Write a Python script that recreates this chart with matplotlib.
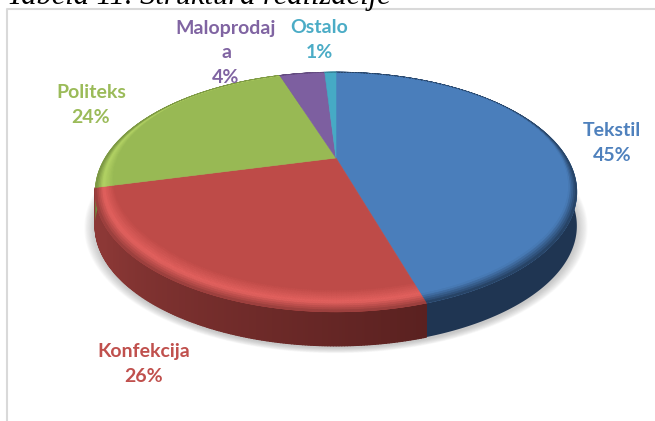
import numpy as np
import matplotlib
matplotlib.use('Agg')
import matplotlib.pyplot as plt
from matplotlib.collections import PolyCollection

# data
categories = ['Tekstil', 'Konfekcija', 'Politeks', 'Maloprodaj\na', 'Ostalo']
shares = [45.4, 25.6, 24.0, 4.0, 1.0]
pct_labels = ['45%', '26%', '24%', '4%', '1%']
face_colours = ['#4a7ebb', '#be4b48', '#98b954', '#7d5fa0', '#46aac5']
wall_colours = ['#1f3552', '#8c3836', '#6f8a3c', '#5c4675', '#30788c']
high_colours = ['#4a7ebb', '#e4625f', '#b4d465', '#7d5fa0', '#46aac5']
text_colours = ['#4f81bd', '#c0504d', '#9bbb59', '#8064a2', '#4bacc6']
label_xy = [(612, 143), (144, 364), (91, 105), (226, 53), (319, 40)]

# pie geometry, in pixels of the 655x421 picture
cx, cy = 336, 158
rx, ry, persp = 231, 110.3, 0.283
depth = 34


def project(t, r=1.0):
    """t = clockwise degrees from the top, r = radius on the unit disc"""
    t = np.radians(t)
    X, Y = r * np.sin(t), r * np.cos(t)
    w = 1 + persp * Y
    return np.column_stack([cx + rx * X / w, cy - ry * Y / w])


def blend(c1, c2, s):
    a = np.array(matplotlib.colors.to_rgb(c1))
    b = np.array(matplotlib.colors.to_rgb(c2))
    return tuple(a + (b - a) * s)


fig = plt.figure(figsize=(6.55, 4.21), dpi=100)
ax = fig.add_axes([0, 0, 1, 1])
ax.set_xlim(0, 655)
ax.set_ylim(421, 0)
ax.axis('off')

# chart frame, runs off the right and bottom of the crop
ax.plot([655, 7, 7], [9, 9, 421], color='#d9d9d9', lw=1.5, zorder=1)

# title is cut by the top edge of the picture
ax.text(7, 4, 'Tabela 11. Struktura realizacije', family='Liberation Serif',
        style='italic', fontsize=22, color='black', va='baseline', zorder=2)

# soft shadow under the pie
rim = project(np.linspace(0, 360, 361))
for s in np.linspace(1.045, 1.0, 14):
    pts = rim.copy()
    pts[:, 0] = 336 + (pts[:, 0] - 336) * s
    pts[:, 1] = 228 + (pts[:, 1] - 192) * s
    ax.fill(pts[:, 0], pts[:, 1], color='#808080', alpha=0.035, lw=0, zorder=3)

edges = np.concatenate([[0], np.cumsum(shares)]) / sum(shares) * 360

for i in range(len(shares)):
    t0, t1 = edges[i], edges[i + 1]
    ts = np.linspace(t0, t1, max(int(t1 - t0) * 2, 2) + 1)

    # side wall, solid underneath, then darkest towards the right of each slice
    top_edge = project(ts)
    wall = np.vstack([top_edge, top_edge[::-1] + [0, depth]])
    ax.fill(wall[:, 0], wall[:, 1], color=wall_colours[i], lw=0, zorder=4)
    if i == 1:
        polys, cols = [], []
        for a, b in zip(ts[:-1], ts[1:]):
            p = project(np.array([a, b]))
            polys.append([p[0], p[1], p[1] + [0, depth], p[0] + [0, depth]])
            cols.append(blend('#5a2120', wall_colours[1], np.clip((a - t0) / 75, 0, 1)))
        ax.add_collection(PolyCollection(polys, facecolors=cols, edgecolors=cols,
                                         linewidths=0.9, zorder=4))

    # flat top of the slice
    pts = np.vstack([[cx, cy], project(ts)])
    ax.fill(pts[:, 0], pts[:, 1], color=face_colours[i], lw=0.4, zorder=5)

    # bevel between top and wall, wide at the front and thin at the back
    polys, cols = [], []
    steps = np.linspace(0, 1, 13)
    for a, b in zip(ts[:-1], ts[1:]):
        Y = np.cos(np.radians(a))
        width = 0.012 + 0.1 * np.clip(0.45 - 0.75 * Y, 0, 1)
        for s0, s1 in zip(steps[:-1], steps[1:]):
            r0, r1 = 1 - width * (1 - s0), 1 - width * (1 - s1)
            pa = project(np.array([a, b]), r0)
            pb = project(np.array([b, a]), r1)
            polys.append([pa[0], pa[1], pb[0], pb[1]])
            if s0 < 0.55:
                cols.append(blend(face_colours[i], high_colours[i], s0 / 0.55))
            else:
                cols.append(blend(high_colours[i], wall_colours[i], (s0 - 0.55) / 0.45))
    ax.add_collection(PolyCollection(polys, facecolors=cols, edgecolors=cols,
                                     linewidths=0.4, zorder=6))

for name, pct, colour, (x, y) in zip(categories, pct_labels, text_colours, label_xy):
    ax.text(x, y, name + '\n' + pct, family='Lato', weight='bold', fontsize=14,
            color=colour, ha='center', va='center', linespacing=1.55, zorder=7)

fig.savefig('out.png', dpi=100)
